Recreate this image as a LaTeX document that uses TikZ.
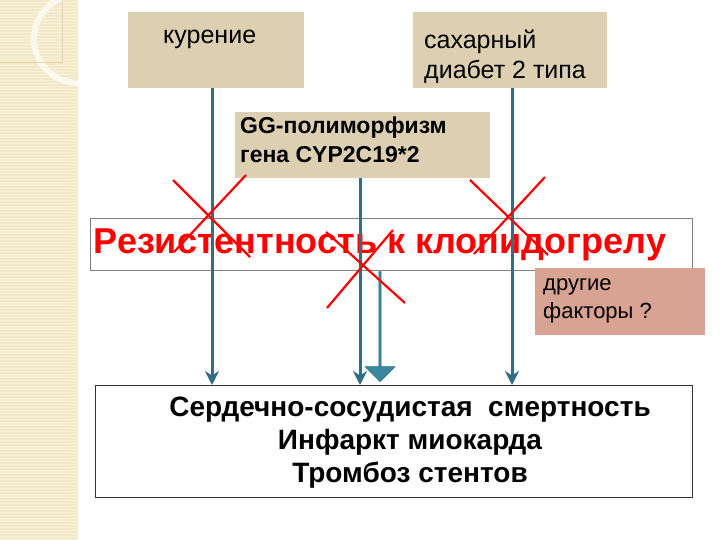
\documentclass[tikz,border=0pt]{standalone}
\usepackage{fontspec}
\setmainfont{Liberation Sans}
\usetikzlibrary{shapes.arrows,arrows.meta}
\definecolor{tan}{HTML}{DDD0B2}
\definecolor{salmon}{HTML}{D8A393}
\definecolor{teal}{HTML}{2F6E84}
\definecolor{tealb}{HTML}{3A87A2}
\definecolor{strip}{HTML}{F3E9C8}
\tikzset{
  tanbox/.style={fill=tan,draw=none,inner sep=0},
  txt/.style={align=left,anchor=north west,font=\fontsize{25}{30}\selectfont,inner sep=0},
  conn/.style={draw=teal,line width=3pt,-{Stealth[length=14pt,width=14pt]}},
  xmark/.style={draw=red,line width=2.2pt}
}
\begin{document}
\begin{tikzpicture}[x=1pt,y=-1pt]
\useasboundingbox (0,0) rectangle (720,540);
\fill[white] (0,0) rectangle (720,540);
% left strip
\fill[strip] (0,0) rectangle (78,540);
\foreach \y in {2,5,...,540} \draw[white,opacity=0.35,line width=0.6pt] (0,\y) -- (78,\y);
\draw[white!70!strip,line width=6pt] (78,83) arc (90:270:44);
\draw[strip!80!brown,line width=0.5pt] (0,62) -- (62,62) -- (62,0);
% boxes
\node[tanbox,minimum width=176,minimum height=76,anchor=north west] (smoke) at (128,12) {};
\node[txt] (smoket) at (163,30) {курение};
\node[tanbox,minimum width=194,minimum height=76,anchor=north west] (diab) at (413,12) {};
\node[txt] (diabt) at (424,30) {сахарный\\диабет 2 типа};
\node[tanbox,minimum width=255,minimum height=66,anchor=north west] (gg) at (235,112) {};
\node[txt,font=\bfseries\fontsize{23}{29}\selectfont] (ggt) at (240,117) {GG-полиморфизм\\гена CYP2C19*2};
\node[draw=gray,line width=0.8pt,minimum width=602,minimum height=52,anchor=north west] (res) at (90,218) {};
\node[text=red,font=\bfseries\fontsize{36}{40}\selectfont,inner sep=0] (rest) at (380,245) {Резистентность к клопидогрелу};
\node[fill=salmon,minimum width=170,minimum height=67,anchor=north west,inner sep=0] (oth) at (535,268) {};
\node[txt,font=\fontsize{22}{28}\selectfont] (otht) at (543,278) {другие\\факторы ?};
\node[draw=black!80,line width=0.8pt,minimum width=597,minimum height=112,anchor=north west] (out) at (95,385) {};
\node[align=center,font=\bfseries\fontsize{28}{33}\selectfont,inner sep=0] (outt) at (410,443) {Сердечно-сосудистая\ \ смертность\\Инфаркт миокарда\\Тромбоз стентов};
% connectors
\coordinate (a1) at (212,88); \coordinate (b1) at (212,385);
\coordinate (a2) at (360,178); \coordinate (b2) at (360,385);
\coordinate (a3) at (512,88); \coordinate (b3) at (512,385);
\draw[conn] (a1) -- (b1);
\draw[conn] (a2) -- (b2);
\draw[conn] (a3) -- (b3);
\node[single arrow,fill=tealb,draw=teal,line width=0.6pt,shape border rotate=270,minimum width=30,single arrow head extend=4pt,single arrow tip angle=90,minimum height=110,inner sep=0,anchor=tip] (big) at (380,382) {};
% red crosses
\draw[xmark] (173,180) -- (250,257); \draw[xmark] (246,175) -- (174,252);
\draw[xmark] (326,232) -- (405,303); \draw[xmark] (393,230) -- (327,308);
\draw[xmark] (470,180) -- (548,255); \draw[xmark] (545,177) -- (474,254);
\end{tikzpicture}
\end{document}
